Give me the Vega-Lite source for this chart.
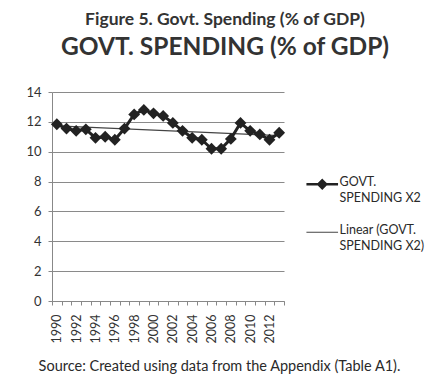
{
  "$schema": "https://vega.github.io/schema/vega-lite/v6.json",
  "width": 232,
  "height": 209,
  "autosize": "none",
  "padding": {"left": 52, "top": 92, "right": 146, "bottom": 80},
  "background": "white",
  "title": {
    "text": "Figure 5. Govt. Spending (% of GDP)",
    "subtitle": "GOVT. SPENDING (% of GDP)",
    "anchor": "middle",
    "dx": 57,
    "offset": 27,
    "font": "Lato",
    "fontSize": 17.5,
    "fontWeight": "bold",
    "color": "#333333",
    "subtitleFont": "Lato",
    "subtitleFontSize": 24.5,
    "subtitleFontWeight": "bold",
    "subtitleColor": "#333333",
    "subtitlePadding": 7
  },
  "data": {
    "values": [
      {"year": 1990, "value": 11.84},
      {"year": 1991, "value": 11.55},
      {"year": 1992, "value": 11.4},
      {"year": 1993, "value": 11.5},
      {"year": 1994, "value": 10.93},
      {"year": 1995, "value": 11.0},
      {"year": 1996, "value": 10.8},
      {"year": 1997, "value": 11.55},
      {"year": 1998, "value": 12.5},
      {"year": 1999, "value": 12.8},
      {"year": 2000, "value": 12.57},
      {"year": 2001, "value": 12.4},
      {"year": 2002, "value": 11.93},
      {"year": 2003, "value": 11.4},
      {"year": 2004, "value": 10.93},
      {"year": 2005, "value": 10.8},
      {"year": 2006, "value": 10.2},
      {"year": 2007, "value": 10.2},
      {"year": 2008, "value": 10.86},
      {"year": 2009, "value": 11.93},
      {"year": 2010, "value": 11.4},
      {"year": 2011, "value": 11.16},
      {"year": 2012, "value": 10.8},
      {"year": 2013, "value": 11.27}
    ]
  },
  "encoding": {
    "x": {
      "field": "year",
      "type": "quantitative",
      "scale": {"domain": [1989.5, 2013.5], "nice": false, "zero": false},
      "axis": {
        "values": [1989.5, 1990.5, 1991.5, 1992.5, 1993.5, 1994.5, 1995.5, 1996.5, 1997.5, 1998.5, 1999.5, 2000.5, 2001.5, 2002.5, 2003.5, 2004.5, 2005.5, 2006.5, 2007.5, 2008.5, 2009.5, 2010.5, 2011.5, 2012.5, 2013.5],
        "labelExpr": "(datum.value + 0.5) % 2 == 0 && datum.value < 2013 ? format(datum.value + 0.5, 'd') : ''",
        "labelOffset": 4.8,
        "labelAngle": -90,
        "labelAlign": "right",
        "labelBaseline": "middle",
        "labelFont": "Lato",
        "labelFontSize": 12.5,
        "labelColor": "#333",
        "labelPadding": 9,
        "labelOverlap": false,
        "labelBound": false,
        "labelFlush": false,
        "tickSize": 4,
        "tickColor": "#888",
        "domainColor": "#888",
        "grid": false,
        "title": "Source: Created using data from the Appendix (Table A1).",
        "titleFont": "Lato",
        "titleFontSize": 14.5,
        "titleFontWeight": "normal",
        "titleColor": "#2a2a2a",
        "titleX": 167,
        "titleY": 69,
        "titleAlign": "center",
        "titleAnchor": null,
        "titleBaseline": "alphabetic"
      }
    },
    "y": {
      "field": "value",
      "type": "quantitative",
      "scale": {"domain": [0, 14], "nice": false},
      "axis": {
        "values": [0, 2, 4, 6, 8, 10, 12, 14],
        "labelFont": "Lato",
        "labelFontSize": 13,
        "labelColor": "#333",
        "labelPadding": 7,
        "tickSize": 4,
        "tickColor": "#888",
        "domainColor": "#888",
        "gridColor": "#8a8a8a",
        "gridWidth": 1,
        "title": null
      }
    }
  },
  "layer": [
    {
      "transform": [{"regression": "value", "on": "year", "method": "linear", "extent": [1990, 2013]}],
      "mark": {"type": "line", "strokeWidth": 1.2},
      "encoding": {
        "color": {
          "datum": "Linear (GOVT. SPENDING X2)",
          "scale": {"domain": ["GOVT. SPENDING X2", "Linear (GOVT. SPENDING X2)"], "range": ["#222222", "#444444"]},
          "legend": {
            "orient": "none",
            "legendX": 264,
            "legendY": 86,
            "title": null,
            "labelFont": "Lato",
            "labelFontSize": 12.5,
            "labelColor": "#2a2a2a",
            "labelLimit": 0,
            "rowPadding": 19,
            "symbolSize": 1000,
            "labelOffset": 11,
            "encode": {
              "symbols": {
                "update": {
                  "shape": {"signal": "datum.value == 'GOVT. SPENDING X2' ? 'M-1,0H1M0,-0.25L0.25,0L0,0.25L-0.25,0Z' : 'M-1,0H1'"},
                  "fill": {"value": "#222222"},
                  "stroke": {"value": "#222222"},
                  "strokeWidth": {"signal": "datum.value == 'GOVT. SPENDING X2' ? 2.5 : 1.2"},
                  "opacity": {"value": 1}
                }
              },
              "labels": {
                "update": {
                  "text": {"signal": "datum.value == 'GOVT. SPENDING X2' ? ['GOVT.', 'SPENDING X2'] : ['Linear (GOVT.', 'SPENDING X2)']"},
                  "baseline": {"value": "top"},
                  "dy": {"value": -8},
                  "lineHeight": {"value": 16}
                }
              }
            }
          }
        }
      }
    },
    {
      "mark": {"type": "line", "strokeWidth": 3},
      "encoding": {
        "color": {"datum": "GOVT. SPENDING X2"}
      }
    },
    {
      "mark": {"type": "point", "shape": "diamond", "filled": true, "size": 140, "opacity": 1},
      "encoding": {
        "color": {"datum": "GOVT. SPENDING X2"}
      }
    }
  ],
  "config": {
    "view": {"stroke": null}
  }
}
